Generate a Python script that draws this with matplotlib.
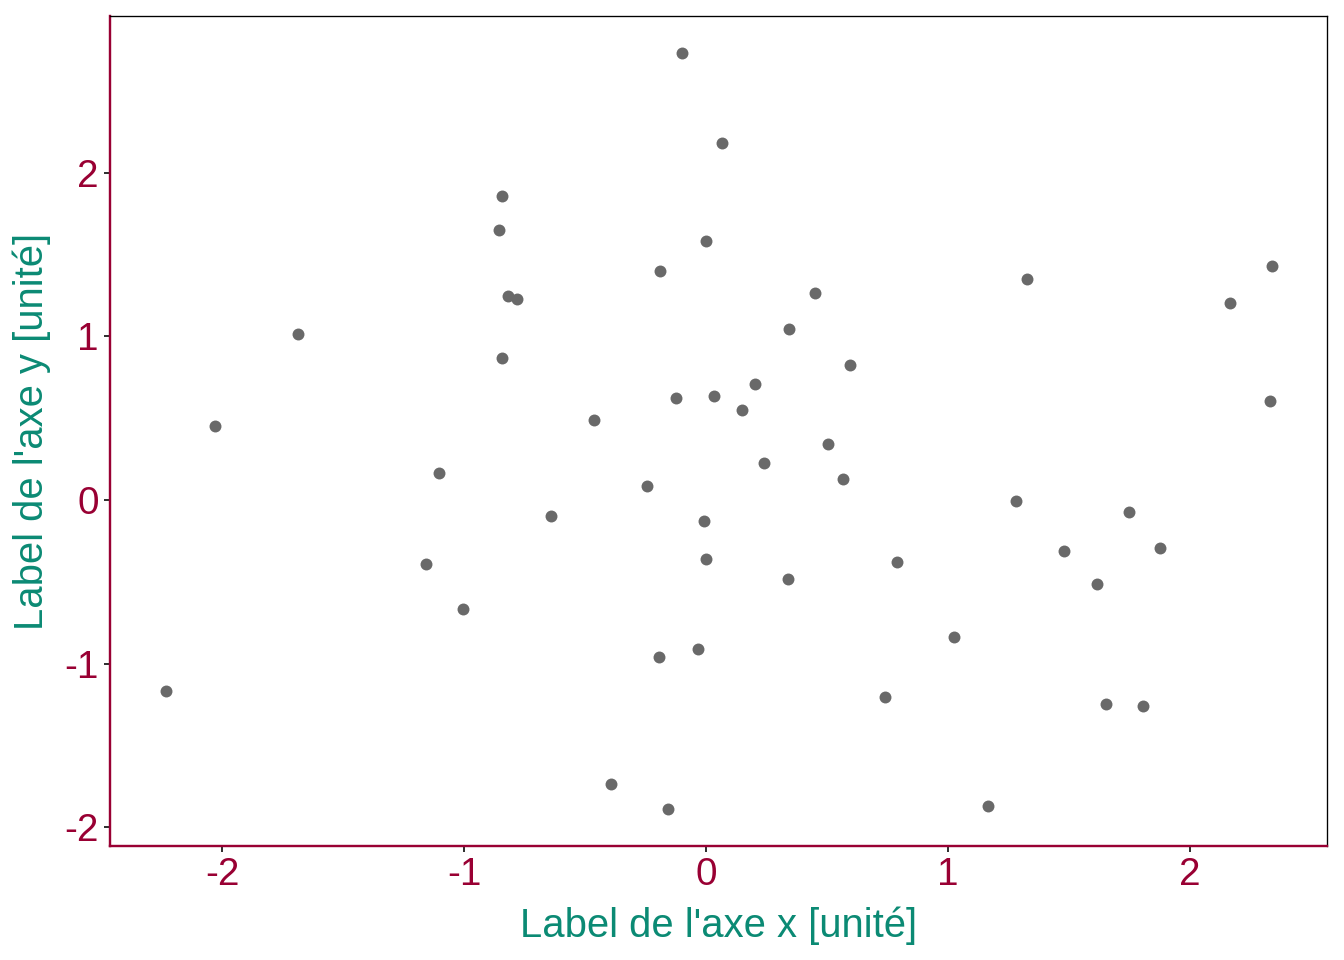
import matplotlib.pyplot as plt

plt.rcParams['font.family'] = ['Liberation Sans', 'DejaVu Sans']

# Données
x = [-0.099, 0.066, -0.843, -0.855, 0.0, -0.190, 1.326, 2.339, 2.165, -0.818,
     -0.781, 0.450, -1.686, 0.343, -0.843, 0.595, 0.202, -0.124, 0.033, 0.149,
     -0.463, -2.029, 2.331, 0.504, 0.240, -1.103, 0.566, -0.244, 1.281, 1.748,
     -0.640, -0.008, 1.876, 1.479, 0.0, -1.157, 0.789, 0.339, 1.616, -1.004,
     1.025, -0.033, -0.194, -2.231, 0.740, 1.653, 1.806, -0.393, -0.157, 1.165]
y = [2.730, 2.180, 1.857, 1.649, 1.582, 1.398, 1.350, 1.429, 1.203, 1.246,
     1.227, 1.264, 1.014, 1.044, 0.867, 0.824, 0.708, 0.623, 0.635, 0.550,
     0.489, 0.452, 0.605, 0.342, 0.226, 0.165, 0.128, 0.085, -0.006, -0.073,
     -0.098, -0.128, -0.293, -0.311, -0.360, -0.391, -0.379, -0.482, -0.513, -0.666,
     -0.837, -0.910, -0.959, -1.166, -1.203, -1.246, -1.258, -1.734, -1.887, -1.869]
ticks = [-2, -1, 0, 1, 2]

rouge = '#990033'
vert = '#0B8A74'

fig = plt.figure(figsize=(7, 5), dpi=192)
ax = fig.add_axes([110 / 1344, 1 - 846 / 960, 1217 / 1344, 830 / 960])

ax.scatter(x, y, s=20, color='#696969', linewidths=0, zorder=3)

ax.set_xlim(-2.463, 2.566)
ax.set_ylim(-2.113, 2.956)
ax.set_xticks(ticks)
ax.set_yticks(ticks)
ax.set_xticklabels([str(t) for t in ticks])
ax.set_yticklabels([str(t) for t in ticks])

# Bordures
for s in ['top', 'right']:
    ax.spines[s].set_color('black')
    ax.spines[s].set_linewidth(0.5)
for s in ['left', 'bottom']:
    ax.spines[s].set_color(rouge)
    ax.spines[s].set_linewidth(0.9)

ax.tick_params(axis='both', colors='black', labelcolor=rouge, labelsize=14.5,
               length=2.2, width=0.6, pad=2)

# Textes
ax.set_xlabel("Label de l'axe x [unité]", color=vert, fontsize=15, labelpad=5)
ax.set_ylabel("Label de l'axe y [unité]", color=vert, fontsize=15, labelpad=5)

fig.savefig('out.png', dpi=192)
